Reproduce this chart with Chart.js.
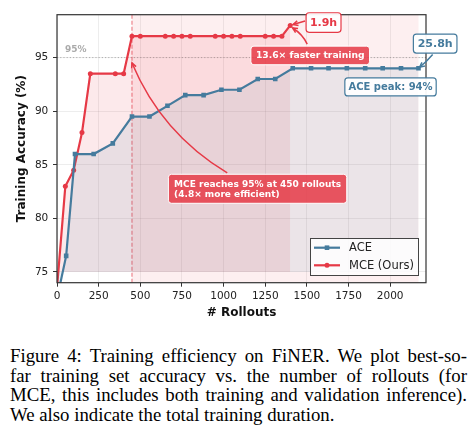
<!DOCTYPE html>
<html>
<head>
<meta charset="utf-8">
<script src="https://cdn.jsdelivr.net/npm/chart.js@4.4.1/dist/chart.umd.min.js"></script>
<style>
  html, body { margin: 0; padding: 0; background: #fff; }
  body { width: 471px; height: 434px; position: relative; overflow: hidden; }
  #c { position: absolute; left: 0; top: 0; }
  .cap { position: absolute; left: 10px; top: 346px; width: 457px;
         font-family: "Liberation Serif", "Times New Roman", serif;
         font-size: 18.8px; line-height: 19.6px; color: #000; }
  .cap div { text-align: justify; text-align-last: justify; }
  .cap div.last { text-align: left; text-align-last: left; }
</style>
</head>
<body>
<canvas id="c" width="471" height="330"></canvas>
<div class="cap">
  <div>Figure 4: Training efficiency on FiNER. We plot best-so-</div>
  <div>far training set accuracy vs. the number of rollouts (for</div>
  <div>MCE, this includes both training and validation inference).</div>
  <div class="last">We also indicate the total training duration.</div>
</div>
<script>
// best-so-far training accuracy (%) vs # rollouts
var aceX = [0, 55, 108, 220, 335, 450, 555, 663, 770, 880, 987, 1095, 1205, 1310, 1415, 1525, 1630, 1740, 1850, 1955, 2065, 2170];
var aceY = [72.5, 76.5, 86, 86, 87, 89.5, 89.5, 90.5, 91.5, 91.5, 92, 92, 93, 93, 94, 94, 94, 94, 94, 94, 94, 94];
var mceX = [0, 50, 100, 150, 200, 350, 400, 450, 500, 650, 700, 750, 800, 950, 1000, 1050, 1100, 1250, 1300, 1350, 1400];
var mceY = [73.5, 83, 84.5, 88, 93.5, 93.5, 93.5, 97, 97, 97, 97, 97, 97, 97, 97, 97, 97, 97, 97, 97, 98];
var xTicks = [0, 250, 500, 750, 1000, 1250, 1500, 1750, 2000];
var yTicks = [75, 80, 85, 90, 95];
var target = 95;     // accuracy threshold
var hitX = 450;      // rollouts where MCE passes 95%

var RED = "#E63946";
var BLUE = "#457B9D";
var FONT = "'DejaVu Sans', sans-serif";

function pts(xs, ys) {
  return xs.map(function (v, i) { return { x: v, y: ys[i] }; });
}

function textBox(ctx, cx, cy, lines, o) {
  ctx.font = "bold " + o.size + "px " + FONT;
  var tw = Math.max.apply(null, lines.map(function (t) { return ctx.measureText(t).width; }));
  var w = tw + 2 * o.padX, h = o.h;
  var left = cx - w / 2, top = cy - h / 2;
  ctx.beginPath();
  ctx.roundRect(left, top, w, h, 3);
  ctx.fillStyle = o.fill;
  ctx.fill();
  ctx.lineWidth = o.lw;
  ctx.strokeStyle = o.edge;
  ctx.setLineDash([]);
  ctx.stroke();
  ctx.fillStyle = o.color;
  ctx.textBaseline = "middle";
  var lh = o.size * 1.12;
  var y0 = cy - (lines.length - 1) * lh / 2;
  lines.forEach(function (t, i) {
    if (o.align === "left") {
      ctx.textAlign = "left";
      ctx.fillText(t, left + o.padX, y0 + i * lh + 0.5);
    } else {
      ctx.textAlign = "center";
      ctx.fillText(t, cx, y0 + i * lh + 0.5);
    }
  });
  return { left: left, top: top, right: left + w, bottom: top + h, w: w, h: h, cx: cx, cy: cy };
}

function arrow(ctx, x0, y0, x1, y1, rad, shrink, color) {
  var d = Math.hypot(x1 - x0, y1 - y0);
  x1 = x1 - (x1 - x0) / d * shrink;
  y1 = y1 - (y1 - y0) / d * shrink;
  var mx = (x0 + x1) / 2, my = (y0 + y1) / 2, dx = x1 - x0, dy = y1 - y0;
  var cx = mx + rad * dy, cy = my - rad * dx;
  ctx.strokeStyle = color;
  ctx.lineWidth = 1.5;
  ctx.setLineDash([]);
  ctx.beginPath();
  ctx.moveTo(x0, y0);
  ctx.quadraticCurveTo(cx, cy, x1, y1);
  ctx.stroke();
  var ang = Math.atan2(y1 - cy, x1 - cx), L = 5.5, a = 0.45;
  ctx.beginPath();
  ctx.moveTo(x1 - L * Math.cos(ang - a), y1 - L * Math.sin(ang - a));
  ctx.lineTo(x1, y1);
  ctx.lineTo(x1 - L * Math.cos(ang + a), y1 - L * Math.sin(ang + a));
  ctx.stroke();
}

var extras = {
  id: "extras",
  beforeDatasetsDraw: function (chart) {
    var ctx = chart.ctx, a = chart.chartArea, x = chart.scales.x, y = chart.scales.y;
    ctx.save();
    ctx.beginPath();
    ctx.rect(a.left, a.top, a.width, a.height);
    ctx.clip();
    // span where MCE is already past the threshold
    var x0 = x.getPixelForValue(hitX), x1 = x.getPixelForValue(aceX[aceX.length - 1]);
    ctx.fillStyle = "rgba(230,57,70,0.08)";
    ctx.fillRect(x0, a.top, x1 - x0, a.height);
    // 95% line
    var y95 = y.getPixelForValue(target);
    ctx.strokeStyle = "rgba(120,120,120,0.6)";
    ctx.lineWidth = 0.9;
    ctx.setLineDash([1.2, 2]);
    ctx.beginPath();
    ctx.moveTo(a.left, y95);
    ctx.lineTo(a.right, y95);
    ctx.stroke();
    ctx.font = "bold 9px " + FONT;
    ctx.fillStyle = "#aaa";
    ctx.textAlign = "left";
    ctx.textBaseline = "middle";
    ctx.fillText("95%", x.getPixelForValue(48), y95 - 8);
    // vertical dashed at hitX
    ctx.strokeStyle = "rgba(230,57,70,0.6)";
    ctx.lineWidth = 1.2;
    ctx.setLineDash([4, 2]);
    ctx.beginPath();
    ctx.moveTo(x0, a.top);
    ctx.lineTo(x0, a.bottom);
    ctx.stroke();
    ctx.restore();
  },
  afterDatasetsDraw: function (chart) {
    var ctx = chart.ctx, a = chart.chartArea, x = chart.scales.x, y = chart.scales.y;
    ctx.save();
    // frame
    ctx.strokeStyle = "#333";
    ctx.lineWidth = 1.2;
    ctx.setLineDash([]);
    ctx.strokeRect(a.left, a.top, a.width, a.height);

    var mLast = { x: x.getPixelForValue(mceX[mceX.length - 1]), y: y.getPixelForValue(mceY[mceY.length - 1]) };
    var aLast = { x: x.getPixelForValue(aceX[aceX.length - 1]), y: y.getPixelForValue(aceY[aceY.length - 1]) };

    // MCE hit annotation
    var b1 = textBox(ctx, x.getPixelForValue(1204), y.getPixelForValue(82.76),
      ["MCE reaches 95% at 450 rollouts", "(4.8\u00d7 more efficient)"],
      { size: 9, padX: 5.7, h: 29, fill: "rgba(230,57,70,0.85)", edge: "#fff", lw: 1, color: "#fff", align: "left" });
    arrow(ctx, b1.left + 0.33 * b1.w, b1.top - 1.5, x.getPixelForValue(hitX), y.getPixelForValue(94.5), 0.164, 0, RED);

    // speedup
    var b2 = textBox(ctx, x.getPixelForValue(1520), y.getPixelForValue(95.2),
      ["13.6\u00d7 faster training"],
      { size: 9.2, padX: 5, h: 18.6, fill: "rgba(230,57,70,0.85)", edge: "#fff", lw: 1, color: "#fff" });
    arrow(ctx, b2.cx - 3, b2.top - 2, mLast.x, mLast.y, -0.15, 3.5, RED);

    // MCE time
    var b3 = textBox(ctx, x.getPixelForValue(1600), y.getPixelForValue(98.27), ["1.9h"],
      { size: 11, padX: 3.8, h: 19.6, fill: "rgba(255,255,255,0.95)", edge: RED, lw: 1.2, color: RED });
    arrow(ctx, b3.left - 1, b3.cy - 1.5, mLast.x, mLast.y, 0, 3, RED);

    // ACE time
    var b4 = textBox(ctx, x.getPixelForValue(2270), y.getPixelForValue(96.31), ["25.8h"],
      { size: 11, padX: 4.3, h: 19, fill: "rgba(255,255,255,0.95)", edge: BLUE, lw: 1.2, color: BLUE });
    arrow(ctx, b4.cx - 2.5, b4.bottom + 1.5, aLast.x, aLast.y, 0.05, 1.5, BLUE);

    // ACE peak
    textBox(ctx, x.getPixelForValue(2002), y.getPixelForValue(92.26), ["ACE peak: 94%"],
      { size: 10, padX: 3.6, h: 18, fill: "rgba(255,255,255,0.95)", edge: BLUE, lw: 1.2, color: BLUE });

    // legend
    var W = 109, H = 38;
    var L = a.right - 7 - W, T = a.bottom - 6.7 - H;
    ctx.fillStyle = "rgba(255,255,255,0.85)";
    ctx.fillRect(L, T, W, H);
    ctx.strokeStyle = "#444";
    ctx.lineWidth = 1;
    ctx.strokeRect(L + 0.5, T + 0.5, W - 1, H - 1);
    chart.data.datasets.forEach(function (ds, i) {
      var ly = T + 9.7 + i * 17.6;
      ctx.strokeStyle = ds.borderColor;
      ctx.lineWidth = 2.2;
      ctx.beginPath();
      ctx.moveTo(L + 4, ly);
      ctx.lineTo(L + 30, ly);
      ctx.stroke();
      ctx.fillStyle = ds.borderColor;
      if (ds.pointStyle === "rect") {
        ctx.fillRect(L + 17 - 2.3, ly - 2.3, 4.6, 4.6);
      } else {
        ctx.beginPath();
        ctx.arc(L + 17, ly, 2.5, 0, Math.PI * 2);
        ctx.fill();
      }
      ctx.fillStyle = "#222";
      ctx.font = "11.5px " + FONT;
      ctx.textAlign = "left";
      ctx.textBaseline = "middle";
      ctx.fillText(ds.label, L + 39, ly + 0.5);
    });
    ctx.restore();
  }
};

Chart.defaults.font.family = FONT;
Chart.defaults.color = "#222";

new Chart(document.getElementById("c"), {
  type: "line",
  data: {
    datasets: [
      {
        label: "ACE",
        data: pts(aceX, aceY),
        borderColor: BLUE,
        backgroundColor: "rgba(69,123,157,0.1)",
        fill: { value: 75 },
        borderWidth: 2.2,
        pointStyle: "rect",
        pointRadius: 3.25,
        pointBackgroundColor: BLUE,
        pointBorderWidth: 0
      },
      {
        label: "MCE (Ours)",
        data: pts(mceX, mceY),
        borderColor: RED,
        backgroundColor: "rgba(230,57,70,0.11)",
        fill: { value: 75 },
        borderWidth: 2.2,
        pointStyle: "circle",
        pointRadius: 2.5,
        pointBackgroundColor: RED,
        pointBorderWidth: 0
      }
    ]
  },
  options: {
    responsive: false,
    animation: false,
    layout: { padding: { left: 0, top: 14.7, right: 45, bottom: 0 } },
    elements: { line: { tension: 0 } },
    plugins: { legend: { display: false }, tooltip: { enabled: false } },
    scales: {
      x: {
        type: "linear",
        min: 0,
        max: 2215,
        afterBuildTicks: function (s) { s.ticks = xTicks.map(function (v) { return { value: v }; }); },
        afterFit: function (s) { s.height = 47.3; },
        ticks: { font: { size: 10.5 }, padding: 3, maxRotation: 0, color: "#222", callback: function (v) { return String(v); } },
        grid: { color: "rgba(0,0,0,0.09)", lineWidth: 0.8, tickColor: "#333", tickLength: 4, tickWidth: 1 },
        border: { display: false },
        title: { display: true, text: "# Rollouts", color: "#111", font: { size: 12, weight: "bold" }, padding: { top: 0, bottom: 9.8 } }
      },
      y: {
        min: 74,
        max: 99,
        afterBuildTicks: function (s) { s.ticks = yTicks.map(function (v) { return { value: v }; }); },
        afterFit: function (s) { s.width = 57; },
        ticks: { font: { size: 10.5 }, padding: 4.7, color: "#222", callback: function (v) { return String(v); } },
        grid: { color: "rgba(0,0,0,0.09)", lineWidth: 0.8, tickColor: "#333", tickLength: 4, tickWidth: 1 },
        border: { display: false },
        title: { display: true, text: "Training Accuracy (%)", color: "#111", font: { size: 12, weight: "bold" }, padding: { top: 14.8, bottom: 0 } }
      }
    }
  },
  plugins: [extras]
});
</script>
</body>
</html>
